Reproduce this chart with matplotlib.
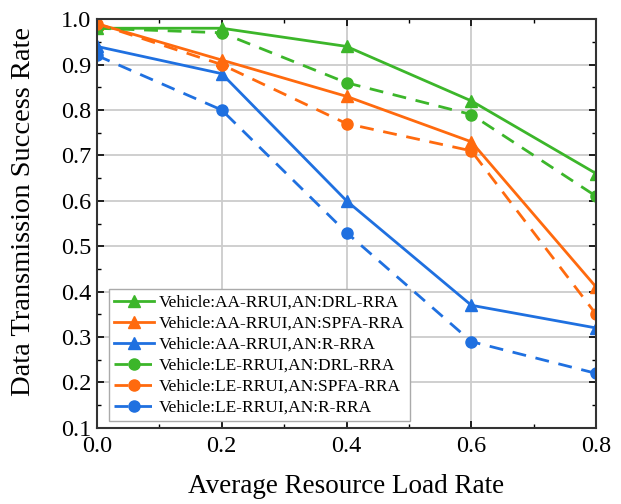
import matplotlib
matplotlib.use("Agg")
import matplotlib.pyplot as plt
from matplotlib.ticker import MultipleLocator

plt.rcParams['font.family'] = ['Liberation Serif', 'DejaVu Serif']
plt.rcParams['mathtext.fontset'] = 'stix'

load = [0.0, 0.2, 0.4, 0.6, 0.8]

aa_drl = [0.98, 0.98, 0.94, 0.82, 0.66]
aa_spfa = [0.99, 0.91, 0.83, 0.73, 0.41]
aa_r = [0.94, 0.88, 0.60, 0.37, 0.32]
le_drl = [0.98, 0.97, 0.86, 0.79, 0.61]
le_spfa = [0.99, 0.90, 0.77, 0.71, 0.35]
le_r = [0.92, 0.80, 0.53, 0.29, 0.22]

labels = [
    "Vehicle:AA-RRUI,AN:DRL-RRA",
    "Vehicle:AA-RRUI,AN:SPFA-RRA",
    "Vehicle:AA-RRUI,AN:R-RRA",
    "Vehicle:LE-RRUI,AN:DRL-RRA",
    "Vehicle:LE-RRUI,AN:SPFA-RRA",
    "Vehicle:LE-RRUI,AN:R-RRA",
]

green = '#3cb62a'
orange = '#ff6a0e'
blue = '#1f70e0'

fig = plt.figure(figsize=(6.21, 5.04), dpi=100)
ax = fig.add_axes([0.156, 0.151, 0.804, 0.811])

ax.plot(load, aa_drl, '-', marker='^', color=green, lw=2, ms=8.5, label=labels[0])
ax.plot(load, aa_spfa, '-', marker='^', color=orange, lw=2, ms=8.5, label=labels[1])
ax.plot(load, aa_r, '-', marker='^', color=blue, lw=2, ms=8.5, label=labels[2])
ax.plot(load, le_drl, '--', marker='o', color=green, lw=2, ms=8, dashes=(5, 3.5), label=labels[3])
ax.plot(load, le_spfa, '--', marker='o', color=orange, lw=2, ms=8, dashes=(5, 3.5), label=labels[4])
ax.plot(load, le_r, '--', marker='o', color=blue, lw=2, ms=8, dashes=(5, 3.5), label=labels[5])

ax.set_xlim(0, 0.8)
ax.set_ylim(0.1, 1.0)
ax.xaxis.set_major_locator(MultipleLocator(0.2))
ax.xaxis.set_minor_locator(MultipleLocator(0.1))
ax.yaxis.set_major_locator(MultipleLocator(0.1))
ax.yaxis.set_minor_locator(MultipleLocator(0.05))
ax.xaxis.set_major_formatter(plt.FormatStrFormatter('%.1f'))
ax.yaxis.set_major_formatter(plt.FormatStrFormatter('%.1f'))
ax.tick_params(which='both', direction='in', top=True, right=True, labelsize=17.5)
ax.tick_params(which='major', length=5, width=1.2)
ax.tick_params(axis='x', which='major', pad=6)
ax.tick_params(axis='y', which='major', pad=4)
ax.tick_params(which='minor', length=3, width=1)
ax.grid(True, which='major', color='#cccccc', lw=1.3)
for s in ax.spines.values():
    s.set_linewidth(1.5)
    s.set_color('#333333')

ax.set_xlabel('Average Resource Load Rate', fontsize=19.5, labelpad=12)
ax.set_ylabel('Data Transmission Success Rate', fontsize=20.5)
ax.yaxis.set_label_coords(-0.122, 0.53)

leg = ax.legend(loc='lower left', bbox_to_anchor=(0.024, 0.017), fontsize=12.5,
                fancybox=False, framealpha=1, edgecolor='#aaaaaa',
                handlelength=2.3, handletextpad=0.3, labelspacing=0.28,
                borderpad=0.3, borderaxespad=0)
leg.get_frame().set_linewidth(1)

fig.savefig('out.png', dpi=100)
